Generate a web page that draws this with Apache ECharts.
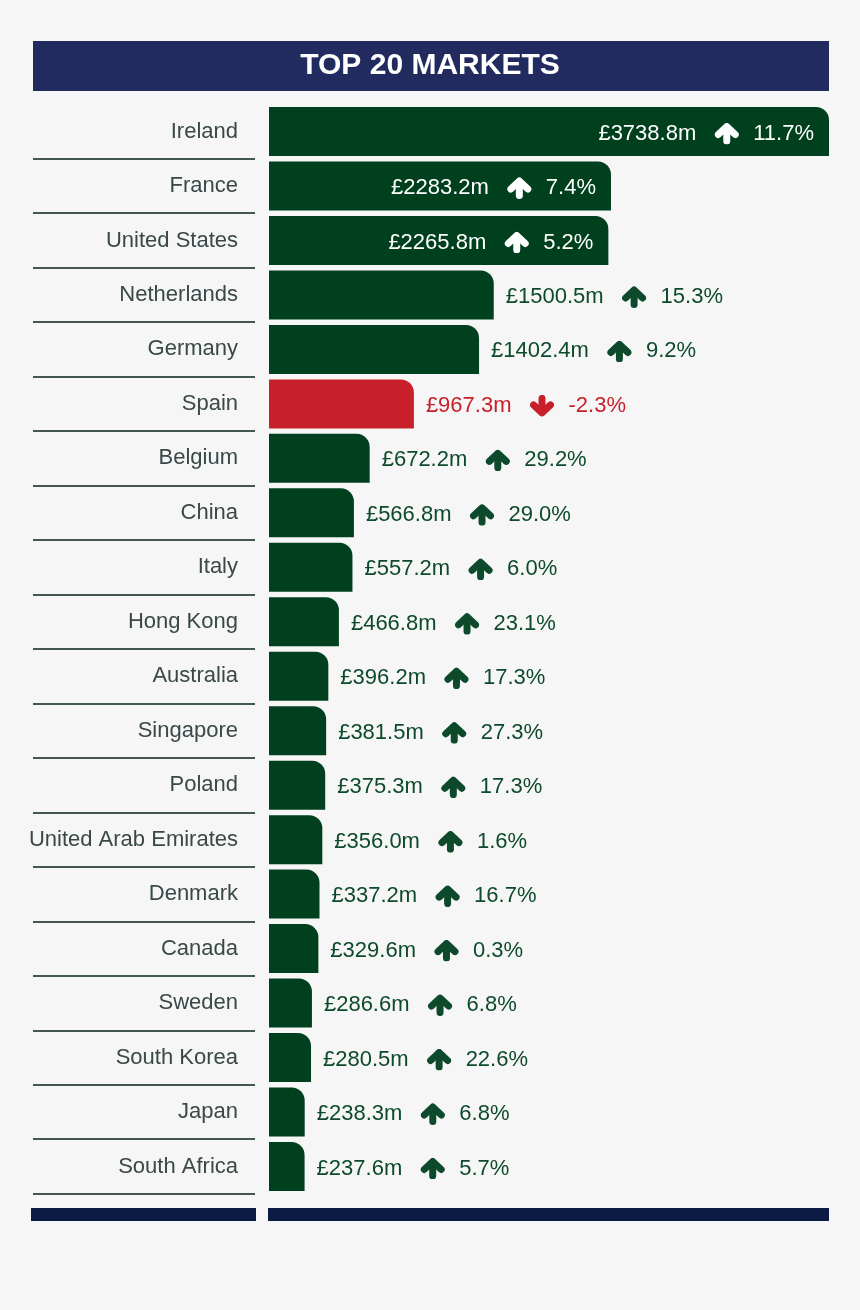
<!DOCTYPE html>
<html><head><meta charset="utf-8">
<script src="https://cdn.jsdelivr.net/npm/echarts@6/dist/echarts.min.js"></script>
<style>html,body{margin:0;padding:0;background:#f6f6f6;} #c{width:860px;height:1310px;}</style>
</head><body><div id="c"></div>
<script>
const chartTitle = 'TOP 20 MARKETS';
const countries = ['Ireland','France','United States','Netherlands','Germany','Spain','Belgium','China','Italy','Hong Kong','Australia','Singapore','Poland','United Arab Emirates','Denmark','Canada','Sweden','South Korea','Japan','South Africa'];
const values = [3738.8,2283.2,2265.8,1500.5,1402.4,967.3,672.2,566.8,557.2,466.8,396.2,381.5,375.3,356.0,337.2,329.6,286.6,280.5,238.3,237.6];
const changes = [11.7,7.4,5.2,15.3,9.2,-2.3,29.2,29.0,6.0,23.1,17.3,27.3,17.3,1.6,16.7,0.3,6.8,22.6,6.8,5.7];

const GREEN = '#00401f', TEXTGREEN = '#0d4a2b', RED = '#c8202a', NAVY = '#222b5f', DARKNAVY = '#0b1b44';
const FONT = '"Liberation Sans", Arial, sans-serif';

function arrow(color, down) {
  const svg = '<svg xmlns="http://www.w3.org/2000/svg" width="25" height="22" viewBox="0 0 25 22">' +
    '<g fill="none" stroke="' + color + '" stroke-width="7" stroke-linecap="round" stroke-linejoin="round"' +
    (down ? ' transform="rotate(180 12.5 11)"' : '') + '>' +
    '<path d="M12.5 18.5V6"/><path d="M4 12L12.5 4L21 12"/></g></svg>';
  return 'data:image/svg+xml;charset=utf-8,' + encodeURIComponent(svg);
}
const tones = { w: '#ffffff', g: TEXTGREEN, r: RED };
const rich = {};
Object.keys(tones).forEach(k => {
  rich['v' + k] = { color: tones[k], fontSize: 22, fontFamily: FONT };
  rich['p' + k] = { color: tones[k], fontSize: 22, fontFamily: FONT };
  rich['a' + k] = { width: 25, height: 22, backgroundColor: { image: arrow(tones[k], false) } };
  rich['d' + k] = { width: 25, height: 22, backgroundColor: { image: arrow(tones[k], true) } };
});
rich.s1 = { width: 18 };
rich.s2 = { width: 14 };

const maxVal = Math.max.apply(null, values);
const data = values.map((v, i) => {
  const neg = changes[i] < 0;
  const inside = v >= 2000;
  const tone = inside ? 'w' : (neg ? 'r' : 'g');
  const pct = changes[i].toFixed(1) + '%';
  return {
    value: v,
    itemStyle: { color: neg ? RED : GREEN },
    label: {
      show: true,
      position: inside ? 'insideRight' : 'right',
      distance: inside ? 15 : 12,
      offset: [0, 2],
      formatter: '{v' + tone + '|£' + v.toFixed(1) + 'm}{s1|}{' + (neg ? 'd' : 'a') + tone + '|}{s2|}{p' + tone + '|' + pct + '}',
      rich: rich
    }
  };
});

const chart = echarts.init(document.getElementById('c'), null, { renderer: 'canvas' });
chart.setOption({
  animation: false,
  backgroundColor: '#f6f6f6',
  grid: [
    { left: 269, right: 31, top: 104.3, height: 1089.4, containLabel: false },
    { left: 33, width: 222, top: 104.3, height: 1089.4, containLabel: false }
  ],
  xAxis: [
    { type: 'value', min: 0, max: maxVal, show: false, gridIndex: 0 },
    { type: 'value', min: 0, max: 1, show: false, gridIndex: 1 }
  ],
  yAxis: [
    { type: 'category', data: countries, inverse: true, gridIndex: 0, show: false },
    {
      type: 'category', data: countries, inverse: true, gridIndex: 1, position: 'right',
      axisLine: { show: false },
      axisTick: { show: false },
      axisLabel: { inside: true, margin: 17, fontSize: 22, color: '#3a4848', fontFamily: FONT, padding: [8, 0, 0, 0] },
      splitLine: { show: true, interval: (idx) => idx > 0, lineStyle: { color: '#435553', width: 2 } }
    }
  ],
  series: [{
    type: 'bar', data: data, barWidth: 49, xAxisIndex: 0, yAxisIndex: 0,
    itemStyle: { borderRadius: [0, 13, 0, 0] }
  }],
  graphic: [
    { type: 'rect', left: 33, top: 41, shape: { width: 796, height: 50 }, style: { fill: NAVY }, silent: true },
    { type: 'text', left: 'center', top: 51, style: { text: chartTitle, fill: '#ffffff', font: 'bold 30px ' + FONT } },
    { type: 'rect', left: 31, top: 1208, shape: { width: 225, height: 13 }, style: { fill: DARKNAVY } },
    { type: 'rect', left: 268, top: 1208, shape: { width: 561, height: 13 }, style: { fill: DARKNAVY } }
  ]
});
</script>
</body></html>
